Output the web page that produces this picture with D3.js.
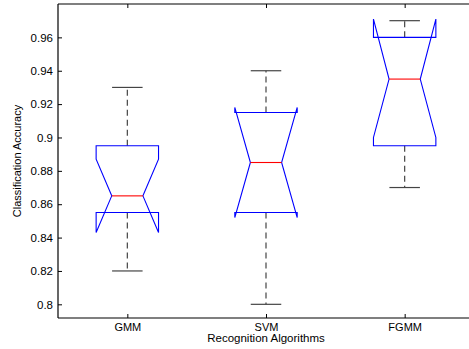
<!DOCTYPE html>
<html><head><meta charset="utf-8">
<script src="https://cdn.jsdelivr.net/npm/d3@7/dist/d3.min.js"></script>
<style>body{margin:0;background:#fff}svg{display:block}text{font-family:"Liberation Sans",Arial,sans-serif}</style>
</head><body><div id="chart"></div>
<script>
const categories = ["GMM","SVM","FGMM"];
const whiskerLow  = [0.82, 0.80, 0.87];
const q1          = [0.855, 0.855, 0.895];
const median      = [0.865, 0.885, 0.935];
const q3          = [0.895, 0.915, 0.96];
const whiskerHigh = [0.93, 0.94, 0.97];
const notchLow    = [0.843, 0.852, 0.900];
const notchHigh   = [0.887, 0.918, 0.971];
const yTicks = [0.8,0.82,0.84,0.86,0.88,0.9,0.92,0.94,0.96];

const W = 469, H = 349;
const svg = d3.select("#chart").append("svg").attr("width",W).attr("height",H);
const pL = 58, pT = 4, pB = 318, pR = 474;
const x = d3.scaleLinear().domain([0.5,3.5]).range([pL,pR]);
const y = d3.scaleLinear().domain([0.7918,0.98]).range([pB,pT]);

const boxHalf = 0.225, notchHalf = 0.1125, capHalf = 0.11;

categories.forEach((c,i)=>{
  const cx = x(i+1);
  const g = svg.append("g");
  [[q3[i],whiskerHigh[i]],[q1[i],whiskerLow[i]]].forEach(([a,b])=>{
    g.append("line").attr("x1",cx).attr("x2",cx).attr("y1",y(a)).attr("y2",y(b))
      .attr("stroke","#444").attr("stroke-width",1.2).attr("stroke-dasharray","6,4");
  });
  [whiskerHigh[i],whiskerLow[i]].forEach(v=>{
    g.append("line").attr("x1",x(i+1-capHalf)).attr("x2",x(i+1+capHalf)).attr("y1",y(v)).attr("y2",y(v))
      .attr("stroke","#444").attr("stroke-width",1.2);
  });
  const xl = x(i+1-boxHalf), xr = x(i+1+boxHalf), nl = x(i+1-notchHalf), nr = x(i+1+notchHalf);
  const pts = [
    [xl,y(q3[i])],[xr,y(q3[i])],[xr,y(notchHigh[i])],[nr,y(median[i])],[xr,y(notchLow[i])],[xr,y(q1[i])],
    [xl,y(q1[i])],[xl,y(notchLow[i])],[nl,y(median[i])],[xl,y(notchHigh[i])]
  ];
  g.append("path").attr("d",d3.line()(pts)+"Z").attr("fill","none").attr("stroke","#0000ff").attr("stroke-width",1.1);
  g.append("line").attr("x1",nl).attr("x2",nr).attr("y1",y(median[i])).attr("y2",y(median[i]))
    .attr("stroke","#ff0000").attr("stroke-width",1.1);
});

svg.append("line").attr("x1",pL).attr("x2",W).attr("y1",pT).attr("y2",pT).attr("stroke","#000").attr("stroke-width",1.2);
svg.append("line").attr("x1",pL).attr("x2",W).attr("y1",pB).attr("y2",pB).attr("stroke","#000").attr("stroke-width",1.2);
svg.append("line").attr("x1",pL).attr("x2",pL).attr("y1",pT).attr("y2",pB).attr("stroke","#000").attr("stroke-width",1.2);

const yAxis = d3.axisLeft(y).tickValues(yTicks).tickSize(-4).tickPadding(5).tickFormat(d=>String(+d.toFixed(2)));
const ya = svg.append("g").attr("transform",`translate(${pL},0)`).call(yAxis);
ya.select(".domain").remove();
ya.selectAll("text").attr("font-size",11.5).attr("fill","#000").attr("font-family","Liberation Sans, Arial, sans-serif");
ya.selectAll("line").attr("stroke","#000");

const xAxis = d3.axisBottom(x).tickValues([1,2,3]).tickSize(-4).tickPadding(5).tickFormat((d,i)=>categories[i]);
const xa = svg.append("g").attr("transform",`translate(0,${pB})`).call(xAxis);
xa.select(".domain").remove();
xa.selectAll("text").attr("font-size",11).attr("fill","#000").attr("font-family","Liberation Sans, Arial, sans-serif");
xa.selectAll("line").attr("stroke","#000");
const xTop = d3.axisTop(x).tickValues([1,2,3]).tickSize(-4).tickFormat("");
const xt = svg.append("g").attr("transform",`translate(0,${pT})`).call(xTop);
xt.select(".domain").remove();
xt.selectAll("line").attr("stroke","#000");

svg.append("text").attr("x",x(2)).attr("y",342).attr("text-anchor","middle").attr("font-size",11.5).text("Recognition Algorithms");
svg.append("text").attr("transform",`translate(21,${(pT+pB)/2}) rotate(-90)`).attr("text-anchor","middle").attr("font-size",11).text("Classification Accuracy");
</script></body></html>
